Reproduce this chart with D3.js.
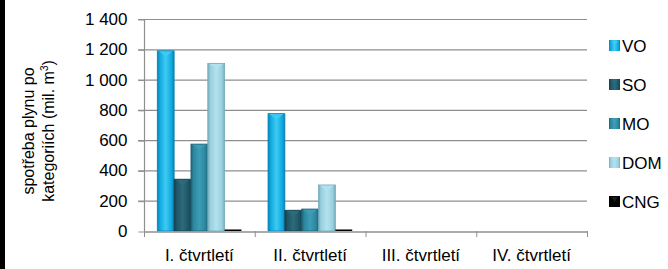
<!DOCTYPE html>
<html>
<head>
<meta charset="utf-8">
<script src="https://cdn.jsdelivr.net/npm/d3@7"></script>
<style>
  body { margin: 0; background: #fff; }
  text { font-family: "Liberation Sans", Arial, sans-serif; fill: #000; }
</style>
</head>
<body>
<script>
const quarters = ['I. čtvrtletí', 'II. čtvrtletí', 'III. čtvrtletí', 'IV. čtvrtletí']
const series = ['VO', 'SO', 'MO', 'DOM', 'CNG']
// values per series, one per quarter (null = no data)
const VO = [1190, 775, null, null]
const SO = [342, 137, null, null]
const MO = [574, 145, null, null]
const DOM = [1107, 304, null, null]
const CNG = [10, 10, null, null]
const yTicks = [0, 200, 400, 600, 800, 1000, 1200, 1400]

const values = { VO, SO, MO, DOM, CNG }
const palette = {
  VO: { base: '#0ea8de', light: '#3fcaf3', dark: '#0a82b3' },
  SO: { base: '#1e5566', light: '#2c6b7c', dark: '#163f4b' },
  MO: { base: '#2c869f', light: '#3d9db6', dark: '#1e6276' },
  DOM: { base: '#99cfdf', light: '#b2e2ee', dark: '#73abbc' },
  CNG: { base: '#111', light: '#222', dark: '#000' }
}

const width = 668, height = 269
const margin = { top: 19, right: 81, bottom: 38, left: 144 }
const fs = 17

const svg = d3.select('body').append('svg')
  .attr('width', width).attr('height', height)

svg.append('rect').attr('x', 0).attr('y', 0).attr('width', 5).attr('height', height).attr('fill', '#000')

const x0 = d3.scaleBand().domain(quarters).range([margin.left, width - margin.right])
const gap = x0.bandwidth() * 0.12
const x1 = d3.scaleBand().domain(series).range([gap, x0.bandwidth() - gap])
const y = d3.scaleLinear().domain([0, 1400]).range([height - margin.bottom, margin.top])

const defs = svg.append('defs')
series.forEach((s) => {
  const g = defs.append('linearGradient').attr('id', 'g-' + s)
    .attr('x1', 0).attr('x2', 1).attr('y1', 0).attr('y2', 0)
  g.append('stop').attr('offset', 0).attr('stop-color', palette[s].dark)
  g.append('stop').attr('offset', 0.15).attr('stop-color', palette[s].base)
  g.append('stop').attr('offset', 0.5).attr('stop-color', palette[s].light)
  g.append('stop').attr('offset', 0.85).attr('stop-color', palette[s].base)
  g.append('stop').attr('offset', 1).attr('stop-color', palette[s].dark)
})

// gridlines
svg.append('g').selectAll('line').data(yTicks.slice(1)).join('line')
  .attr('x1', margin.left - 6).attr('x2', width - margin.right)
  .attr('y1', (d) => y(d) + 0.5).attr('y2', (d) => y(d) + 0.5)
  .attr('stroke', '#8f8f8f').attr('stroke-width', 1.2)

// y axis
const yAxis = svg.append('g').attr('transform', `translate(${margin.left + 0.5},0)`)
  .call(d3.axisLeft(y).tickValues(yTicks).tickSize(6).tickPadding(11)
    .tickFormat((d) => d3.format(',')(d).replace(',', '\u00a0')))
yAxis.select('.domain').attr('stroke', '#8f8f8f').attr('stroke-width', 1.2).attr('d', `M0,${y(1400)}V${y(0)}`)
yAxis.selectAll('.tick line').attr('stroke', '#8f8f8f').attr('transform', 'translate(0,0.5)')
yAxis.selectAll('.tick text').attr('font-size', fs).attr('font-family', '"Liberation Sans", Arial, sans-serif')

// bars
const bars = svg.append('g')
quarters.forEach((q, qi) => {
  series.forEach((s) => {
    const v = values[s][qi]
    if (v == null) return
    const bx = x0(q) + x1(s), bw = x1.bandwidth(), by = y(v), bh = y(0) - y(v)
    bars.append('rect').attr('x', bx).attr('y', by).attr('width', bw).attr('height', bh)
      .attr('fill', s === 'CNG' ? '#000' : `url(#g-${s})`)
    if (s !== 'CNG' && bh > 8) {
      bars.append('path')
        .attr('d', `M${bx + 1},${by}L${bx + bw - 1},${by}L${bx + bw / 2},${by + 6}Z`)
        .attr('fill', palette[s].light).attr('opacity', 0.9)
      bars.append('rect').attr('x', bx).attr('y', by).attr('width', bw).attr('height', bh)
        .attr('fill', 'none').attr('stroke', palette[s].dark).attr('stroke-width', 0.8)
    }
  })
})

// x axis
const xAxis = svg.append('g').attr('transform', `translate(0,${y(0) + 0.5})`)
  .call(d3.axisBottom(x0).tickSize(0).tickPadding(17))
xAxis.select('.domain').attr('stroke', '#8f8f8f').attr('stroke-width', 1.5)
xAxis.selectAll('.tick text').attr('font-size', fs).attr('font-family', '"Liberation Sans", Arial, sans-serif')
svg.append('g').selectAll('line').data([...quarters.map((q) => x0(q)), x0.range()[1]]).join('line')
  .attr('x1', (d) => d + 0.5).attr('x2', (d) => d + 0.5)
  .attr('y1', y(0)).attr('y2', y(0) + 6)
  .attr('stroke', '#8f8f8f')

// y title
const title = svg.append('text').attr('transform', 'translate(0,131) rotate(-90)')
  .attr('text-anchor', 'middle').attr('font-size', 16)
title.append('tspan').attr('x', 0).attr('y', 34).text('spotřeba plynu po')
title.append('tspan').attr('x', 0).attr('y', 54).text('kategoriích (mil. m')
  .append('tspan').attr('dy', -6).attr('font-size', 10).text('3')
title.append('tspan').attr('dy', 6).text(')')

// legend
const legend = svg.append('g').attr('transform', 'translate(609,45)')
const item = legend.selectAll('g').data(series).join('g')
  .attr('transform', (d, i) => `translate(0,${i * 39})`)
item.append('rect').attr('x', 0).attr('y', -5).attr('width', 11).attr('height', 11)
  .attr('fill', (d) => (d === 'CNG' ? '#000' : `url(#g-${d})`))
item.append('path').attr('d', 'M2,-4L9,-4L5.5,1Z')
  .attr('fill', (d) => palette[d].light).attr('opacity', 0.8)
item.append('text').attr('x', 13).attr('y', 6.5).attr('font-size', fs).text((d) => d)
</script>
</body>
</html>
